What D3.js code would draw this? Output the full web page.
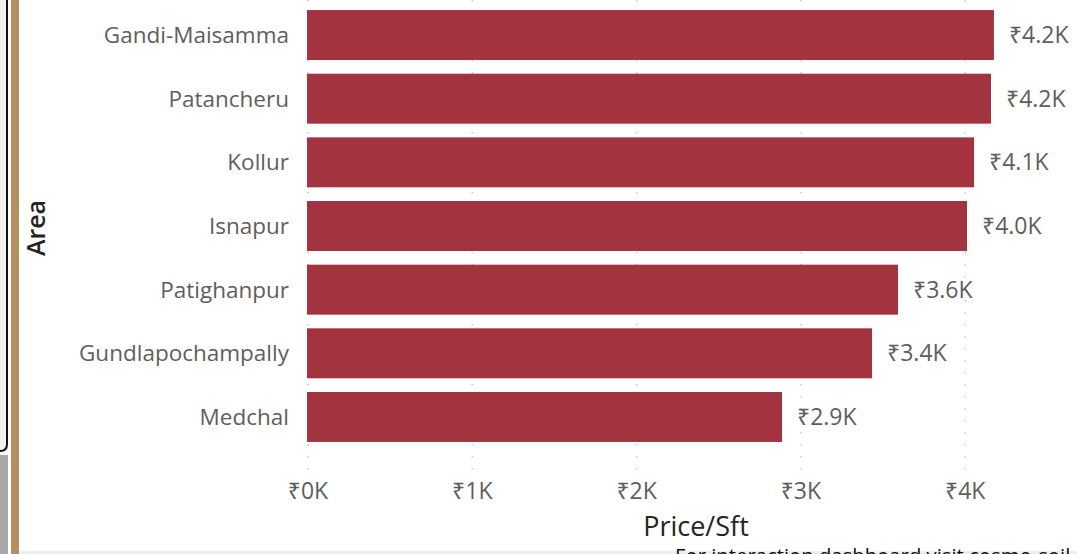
<!DOCTYPE html>
<html>
<head>
<meta charset="utf-8">
<script src="https://cdn.jsdelivr.net/npm/d3@7"></script>
<style>
  html, body { margin: 0; padding: 0; background: #fff; overflow: hidden; }
  svg { display: block; }
</style>
</head>
<body>
<script>
// chart data
var areas = ["Gandi-Maisamma", "Patancheru", "Kollur", "Isnapur", "Patighanpur", "Gundlapochampally", "Medchal"];
var pricePerSft = [4175, 4157, 4054, 4011, 3591, 3433, 2885];
var xTicks = [0, 1000, 2000, 3000, 4000];

var width = 1077, height = 554;
var barColor = "#a3343f";

var svg = d3.select("body").append("svg")
    .attr("width", width)
    .attr("height", height);

// left side decoration (neighbouring panel + accent strip)
svg.append("rect").attr("x", 0).attr("y", 0).attr("width", 8).attr("height", 452).attr("fill", "#f3f2f0");
svg.append("path")
    .attr("d", "M7,0 V444 Q7,451 0,451")
    .attr("fill", "none").attr("stroke", "#111").attr("stroke-width", 2);
svg.append("rect").attr("x", 0).attr("y", 455).attr("width", 8).attr("height", 99).attr("fill", "#a8a8a8");
svg.append("rect").attr("x", 11).attr("y", 0).attr("width", 8).attr("height", 554).attr("fill", "#b3905e");
svg.append("rect").attr("x", 19).attr("y", 551).attr("width", width - 19).attr("height", 3).attr("fill", "#eeeeee");

var x = d3.scaleLinear()
    .domain([0, 4000])
    .range([308, 965.2]);

var y = d3.scaleBand()
    .domain(areas)
    .range([3.2, 448.8])
    .paddingInner(0.215)
    .paddingOuter(0.1075);

// dotted gridlines
svg.append("g").selectAll("line")
    .data(xTicks)
    .enter()
    .append("line")
    .attr("x1", function(d) { return x(d); })
    .attr("x2", function(d) { return x(d); })
    .attr("y1", 0)
    .attr("y2", 472)
    .attr("stroke", "#c8c8c8")
    .attr("stroke-width", 1.5)
    .attr("stroke-dasharray", "1.5,10.5");

// bars
svg.append("g").selectAll("rect")
    .data(pricePerSft)
    .enter()
    .append("rect")
    .attr("x", x(0) - 1)
    .attr("y", function(d, i) { return y(areas[i]); })
    .attr("width", function(d) { return x(d) - x(0) + 1; })
    .attr("height", y.bandwidth())
    .attr("fill", barColor);

var fontFamily = "'Segoe UI', 'Open Sans', 'Noto Sans', sans-serif";

// category labels
svg.append("g").selectAll("text")
    .data(areas)
    .enter()
    .append("text")
    .attr("x", 289)
    .attr("y", function(d) { return y(d) + y.bandwidth() / 2; })
    .attr("dy", "0.35em")
    .attr("text-anchor", "end")
    .attr("font-family", fontFamily)
    .attr("font-size", 22.5)
    .attr("fill", "#605e5c")
    .text(function(d) { return d; });

// value labels
svg.append("g").selectAll("text")
    .data(pricePerSft)
    .enter()
    .append("text")
    .attr("x", function(d) { return x(d) + 15; })
    .attr("y", function(d, i) { return y(areas[i]) + y.bandwidth() / 2; })
    .attr("dy", "0.35em")
    .attr("font-family", fontFamily)
    .attr("font-size", 23)
    .attr("fill", "#605e5c")
    .text(function(d) { return "\u20B9" + d3.format(".1f")(d / 1000) + "K"; });

// x tick labels
svg.append("g").selectAll("text")
    .data(xTicks)
    .enter()
    .append("text")
    .attr("x", function(d) { return x(d); })
    .attr("y", 499)
    .attr("text-anchor", "middle")
    .attr("font-family", fontFamily)
    .attr("font-size", 23)
    .attr("fill", "#605e5c")
    .text(function(d) { return "\u20B9" + (d / 1000) + "K"; });

// axis titles
svg.append("text")
    .attr("transform", "translate(45,228) rotate(-90)")
    .attr("text-anchor", "middle")
    .attr("font-family", fontFamily)
    .attr("font-size", 25)
    .attr("font-weight", 600)
    .attr("fill", "#252423")
    .text("Area");

svg.append("text")
    .attr("x", 696)
    .attr("y", 536)
    .attr("text-anchor", "middle")
    .attr("font-family", fontFamily)
    .attr("font-size", 27)
    .attr("font-weight", 500)
    .attr("fill", "#252423")
    .text("Price/Sft");

// footer note, cut off by the page edge as in the source
svg.append("text")
    .attr("x", 675)
    .attr("y", 563)
    .attr("font-family", fontFamily)
    .attr("font-size", 20.3)
    .attr("fill", "#111")
    .text("For interaction dashboard visit cosmo-soil dashboard");
</script>
</body>
</html>
